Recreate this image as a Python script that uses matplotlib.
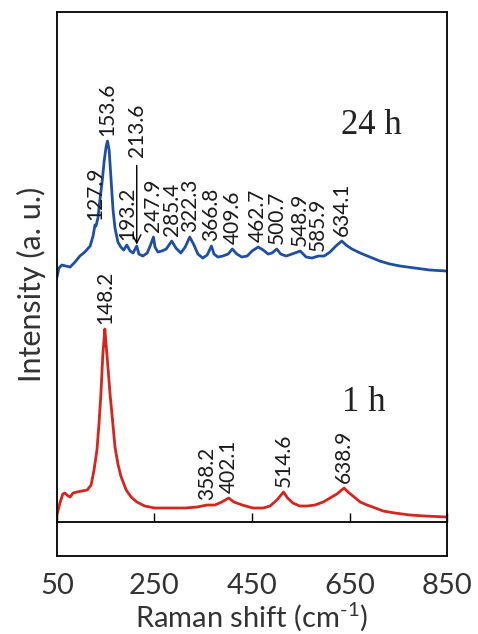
import numpy as np
import matplotlib
matplotlib.use('Agg')
import matplotlib.pyplot as plt

plt.rcParams['font.family'] = ['Lato', 'DejaVu Sans']
plt.rcParams['mathtext.fontset'] = 'custom'
plt.rcParams['mathtext.rm'] = 'Lato'
plt.rcParams['mathtext.it'] = 'Lato:italic'

# 24 h spectrum (Raman shift in cm-1, intensity in a.u., stacked above the 1 h one)
shift_24h = [50, 54, 60, 68, 77, 87, 97, 107, 118, 124, 127.9, 130, 134, 138, 143, 147,
             151, 153.6, 157, 161, 165, 169, 175, 181, 187, 193.2, 200, 206, 213.6, 218,
             226, 235, 241, 247.9, 251, 257, 265, 274, 285.4, 294, 304, 313, 322.3, 331,
             339, 349, 358, 366.8, 372, 380, 390, 401, 409.6, 419, 429, 440, 450, 462.7,
             473, 483, 491, 500.7, 509, 520, 532, 548.9, 561, 573, 585.9, 598, 610, 622,
             634.1, 643, 655, 672, 692, 712, 733, 754, 784, 815, 850]
inten_24h = [279, 288, 291, 290, 289, 294, 300, 304, 310, 320, 331, 330, 338, 356, 376, 396,
             410, 415, 406, 376, 346, 328, 314, 309, 306, 311, 305, 303, 310, 302,
             300, 303, 310, 319, 309, 304, 305, 307, 315, 308, 303, 309, 319, 311,
             302, 298, 301, 310, 302, 299, 300, 302, 307, 302, 299, 300, 305, 309,
             306, 302, 303, 307, 302, 300, 302, 305, 299, 298, 300, 300, 304, 310,
             315, 311, 307, 303, 299, 295, 292, 290, 288, 286, 285]
peaks_24h = [127.9, 153.6, 193.2, 247.9, 285.4, 322.3, 366.8, 409.6, 462.7, 500.7,
             548.9, 585.9, 634.1]
arrow_peak_24h = 213.6

# 1 h spectrum
shift_1h = [51, 56, 62, 66, 73, 77, 83, 91, 101, 112, 120, 126, 132, 136, 140, 144,
            148.2, 150, 155, 159, 163, 169, 175, 181, 192, 202, 214, 230, 251, 282,
            313, 337, 358.2, 374, 388, 402.1, 413, 430, 452, 473, 487, 501, 514.6, 523,
            534, 548, 563, 579, 596, 610, 624, 638.9, 647, 657, 672, 686, 703, 719,
            743, 774, 805, 850]
inten_1h = [43, 53, 62, 63, 60, 59, 63, 64, 65, 66, 71, 86, 106, 131, 161, 201,
            227, 216, 186, 161, 141, 109, 92, 80, 66, 59, 54, 50, 48, 48,
            48, 49, 51, 51, 54, 58, 54, 51, 48, 48, 50, 56, 64, 58,
            53, 50, 50, 51, 54, 58, 62, 68, 64, 60, 54, 51, 48, 45,
            43, 41, 40, 39]
peaks_1h = [148.2, 358.2, 402.1, 514.6, 638.9]

x_ticks = [50, 250, 450, 650, 850]

fig = plt.figure(figsize=(4.78, 6.34), dpi=100)
ax = fig.add_axes([0.1192, 0.123, 0.816, 0.858])

ax.plot(shift_24h, inten_24h, color='#1f4fa3', lw=2.0)
ax.plot(shift_1h, inten_1h, color='#d6251d', lw=2.0)

ax.set_xlim(50, 850)
ax.set_ylim(0, 544)

label_kw = dict(rotation=90, ha='center', va='bottom', fontsize=15, color='#1a1a1a',
                textcoords='offset points')
for p in peaks_24h:
    ax.annotate(f'{p:.1f}', xy=(p, np.interp(p, shift_24h, inten_24h)),
                xytext=(0, 3.5), **label_kw)
ax.annotate(f'{arrow_peak_24h:.1f}',
            xy=(arrow_peak_24h, np.interp(arrow_peak_24h, shift_24h, inten_24h)),
            xytext=(0, 64), arrowprops=dict(arrowstyle='->', lw=1.0, color='black',
                                             shrinkA=4, shrinkB=1), **label_kw)
for p in peaks_1h:
    ax.annotate(f'{p:.1f}', xy=(p, np.interp(p, shift_1h, inten_1h)),
                xytext=(0, 3.5), **label_kw)

ax.text(0.728, 0.792, '24 h', transform=ax.transAxes, ha='left', va='center',
        fontsize=25, family='Liberation Serif', color='#222222')
ax.text(0.731, 0.283, '1 h', transform=ax.transAxes, ha='left', va='center',
        fontsize=25, family='Liberation Serif', color='#222222')

# tick labels sit under the frame, the tick marks on the baseline above it
ax.set_xticks(x_ticks)
ax.tick_params(axis='x', length=0, labelsize=21, pad=12, labelcolor='#333333')
ax.set_yticks([])
for s in ax.spines.values():
    s.set_linewidth(1.3)

base = ax.secondary_xaxis(0.0625)
base.set_xticks(x_ticks)
base.tick_params(axis='x', direction='in', length=6.5, width=1.0, labelbottom=False,
                 labeltop=False)
base.spines['bottom'].set_linewidth(1.3)

ax.set_xlabel('Raman shift (cm$^{\\text{-1}}$)', fontsize=21, color='#333333', labelpad=1)
ax.set_ylabel('Intensity (a. u.)', fontsize=22, color='#333333', labelpad=8)

fig.savefig('out.png', dpi=100)
